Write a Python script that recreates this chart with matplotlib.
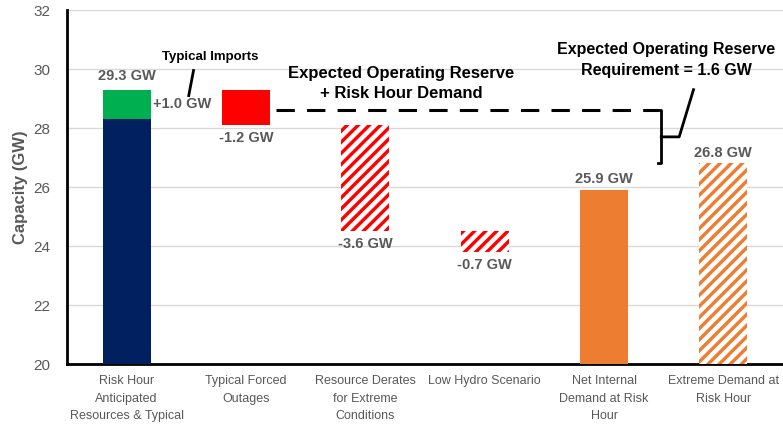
import numpy as np
import matplotlib.pyplot as plt

plt.rcParams['font.family'] = ['Liberation Sans', 'DejaVu Sans']
plt.rcParams['hatch.linewidth'] = 3.2

categories = [
    "Risk Hour\nAnticipated\nResources & Typical",
    "Typical Forced\nOutages",
    "Resource Derates\nfor Extreme\nConditions",
    "Low Hydro Scenario",
    "Net Internal\nDemand at Risk\nHour",
    "Extreme Demand at\nRisk Hour",
]
# floating bars: (bottom, top)
bar_bottom = [20.0, 28.1, 24.5, 23.8, 20.0, 20.0]
bar_top = [28.3, 29.3, 28.1, 24.5, 25.9, 26.8]
imports_bottom = 28.3
imports_top = 29.3
bar_labels = ["29.3 GW", "-1.2 GW", "-3.6 GW", "-0.7 GW", "25.9 GW", "26.8 GW"]
reserve_level = 28.6

navy = "#002060"
green = "#00B050"
red = "#FF0000"
orange = "#ED7D31"
grey = "#595959"

fig = plt.figure(figsize=(7.83, 4.25), dpi=100)
ax = fig.add_axes([0.0856, 0.1435, 0.9144, 0.8329])

x = np.arange(len(categories))
w = 0.4
heights = np.array(bar_top) - np.array(bar_bottom)

ax.bar(x[0], heights[0], bottom=bar_bottom[0], width=w, color=navy, zorder=3)
ax.bar(x[0], imports_top - imports_bottom, bottom=imports_bottom, width=w, color=green, zorder=3)
ax.bar(x[1], heights[1], bottom=bar_bottom[1], width=w, color=red, zorder=3)
for i in (2, 3):
    ax.bar(x[i], heights[i], bottom=bar_bottom[i], width=w, color=red,
           edgecolor="white", linewidth=0, hatch="///", zorder=3)
ax.bar(x[4], heights[4], bottom=bar_bottom[4], width=w, color=orange, zorder=3)
ax.bar(x[5], heights[5], bottom=bar_bottom[5], width=w, color=orange,
       edgecolor="white", linewidth=0, hatch="///", zorder=3)

# value labels
lab = dict(fontsize=10.5, fontweight="bold", color=grey, ha="center")
ax.text(x[0], bar_top[1] + 0.22, bar_labels[0], va="bottom", **lab)
ax.text(x[1], bar_bottom[1] - 0.2, bar_labels[1], va="top", **lab)
ax.text(x[2], bar_bottom[2] - 0.2, bar_labels[2], va="top", **lab)
ax.text(x[3], bar_bottom[3] - 0.22, bar_labels[3], va="top", **lab)
ax.text(x[4], bar_top[4] + 0.12, bar_labels[4], va="bottom", **lab)
ax.text(x[5], bar_top[5] + 0.12, bar_labels[5], va="bottom", **lab)

# typical imports annotation
ax.text(x[0] + 0.22, 28.8, "+1.0 GW", ha="left", va="center",
        fontsize=10.5, fontweight="bold", color=grey)
ax.plot([x[0] + 0.52, x[0] + 0.56], [29.1, 29.95], color="black", lw=2, zorder=4)
ax.text(x[0] + 0.7, 30.4, "Typical Imports", ha="center", va="center",
        fontsize=9.5, fontweight="bold", color="black")

# reserve dashed line and bracket
ax.plot([x[1] + 0.25, x[4] + 0.45], [reserve_level, reserve_level],
        color="black", lw=2.2, dashes=(6, 4), zorder=4)
bx = x[4] + 0.48
ax.plot([bx - 0.03, bx, bx, bx - 0.03], [reserve_level, reserve_level, bar_top[5], bar_top[5]],
        color="black", lw=2, zorder=4)
mid = (reserve_level + bar_top[5]) / 2
ax.plot([bx, bx + 0.15, bx + 0.27], [mid, mid, 29.3], color="black", lw=2, zorder=4)

ax.text(x[2] + 0.3, 29.52, "Expected Operating Reserve\n+ Risk Hour Demand",
        ha="center", va="center", fontsize=12, fontweight="bold",
        color="black", linespacing=1.4)
ax.text(x[4] + 0.52, 30.3, "Expected Operating Reserve\nRequirement = 1.6 GW",
        ha="center", va="center", fontsize=11.5, fontweight="bold",
        color="black", linespacing=1.5)

ax.set_xlim(-0.5, 5.5)
ax.set_ylim(20, 32)
ax.set_yticks(np.arange(20, 33, 2))
ax.set_xticks(x)
ax.set_xticklabels(categories, fontsize=9, color=grey, linespacing=1.6)
ax.tick_params(axis="y", labelsize=11, labelcolor=grey, length=0, pad=12)
ax.tick_params(axis="x", length=0, pad=8)
ax.set_ylabel("Capacity (GW)", fontsize=12, fontweight="bold", color=grey)
ax.grid(axis="y", color="#D9D9D9", lw=1, zorder=0)
for s in ("top", "right"):
    ax.spines[s].set_visible(False)
ax.spines["left"].set_linewidth(2)
ax.spines["bottom"].set_linewidth(2)

fig.savefig("out.png", dpi=100)
